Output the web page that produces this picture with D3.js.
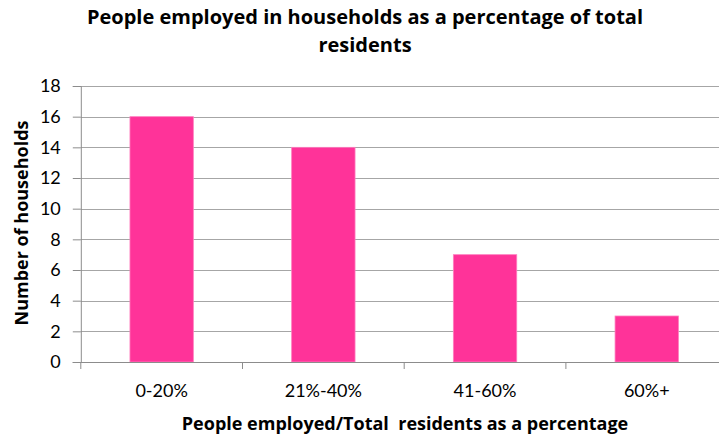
<!DOCTYPE html>
<html>
<head>
<meta charset="utf-8">
<script src="https://cdn.jsdelivr.net/npm/d3@7"></script>
<style>
  html, body { margin: 0; padding: 0; background: #fff; overflow: hidden; }
  svg { display: block; }
  text { fill: #000; }
  .tick-label { font-family: Lato, sans-serif; font-size: 18px; }
  .heading { font-family: "Open Sans", sans-serif; font-weight: bold; white-space: pre; }
</style>
</head>
<body>
<div id="chart"></div>
<script>
// Households by share of residents employed
const categories = ["0-20%", "21%-40%", "41-60%", "60%+"];
const households = [16, 14, 7, 3];
const yTicks = [0, 2, 4, 6, 8, 10, 12, 14, 16, 18];

const W = 719, H = 437;
const plot = { left: 80.8, right: 727.6, top: 86, bottom: 362 };

const svg = d3.select("#chart").append("svg")
  .attr("width", W).attr("height", H);

const x = d3.scaleBand()
  .domain(categories)
  .range([plot.left, plot.right])
  .paddingInner(0.608)
  .paddingOuter(0.304);

const y = d3.scaleLinear().domain([0, 18]).range([plot.bottom, plot.top]);

// Horizontal gridlines
svg.append("g")
  .selectAll("line")
  .data(yTicks.filter(t => t > 0))
  .join("line")
  .attr("x1", plot.left).attr("x2", plot.right)
  .attr("y1", d => Math.round(y(d)) + 0.5).attr("y2", d => Math.round(y(d)) + 0.5)
  .attr("stroke", "#a6a6a6").attr("stroke-width", 1.2);

// Bars
svg.append("g")
  .selectAll("rect")
  .data(categories.map((c, i) => ({ c, v: households[i] })))
  .join("rect")
  .attr("x", d => x(d.c))
  .attr("width", x.bandwidth())
  .attr("y", d => y(d.v))
  .attr("height", d => y(0) - y(d.v))
  .attr("fill", "#ff3399")
  .attr("stroke", "#ff7fbf").attr("stroke-width", 0.8);

// Y axis
const yAxis = svg.append("g")
  .attr("transform", `translate(${plot.left},0)`)
  .call(d3.axisLeft(y).tickValues(yTicks).tickSize(8).tickPadding(12).tickFormat(d3.format("d")));
yAxis.select(".domain").attr("stroke", "#8c8c8c");
yAxis.selectAll(".tick line").attr("stroke", "#8c8c8c");
yAxis.selectAll(".tick text")
  .attr("class", "tick-label")
  .attr("font-size", null).attr("font-family", null)
  .attr("fill", "#000");

// X axis with ticks at category boundaries
const boundaries = categories.map(c => x(c) - x.step() * x.paddingOuter()).concat([plot.right]);
const xAxis = svg.append("g").attr("transform", `translate(0,${plot.bottom})`);
xAxis.append("line")
  .attr("x1", plot.left - 8).attr("x2", plot.right)
  .attr("y1", 0.5).attr("y2", 0.5)
  .attr("stroke", "#8c8c8c");
xAxis.selectAll("line.tk")
  .data(boundaries)
  .join("line").attr("class", "tk")
  .attr("x1", d => d).attr("x2", d => d)
  .attr("y1", 0).attr("y2", 7)
  .attr("stroke", "#8c8c8c");
xAxis.selectAll("text")
  .data(categories)
  .join("text")
  .attr("class", "tick-label")
  .attr("x", d => x(d) + x.bandwidth() / 2)
  .attr("y", 35)
  .attr("text-anchor", "middle")
  .text(d => d);

// Titles
svg.append("text")
  .attr("class", "heading")
  .attr("x", 365).attr("y", 24)
  .attr("text-anchor", "middle")
  .style("font-size", "20px")
  .text("People employed in households as a percentage of total");
svg.append("text")
  .attr("class", "heading")
  .attr("x", 365).attr("y", 52)
  .attr("text-anchor", "middle")
  .style("font-size", "20px")
  .text("residents");

svg.append("text")
  .attr("class", "heading")
  .attr("x", 405).attr("y", 430)
  .attr("text-anchor", "middle")
  .style("font-size", "18px")
  .text("People employed/Total  residents as a percentage");

svg.append("text")
  .attr("class", "heading")
  .attr("transform", "translate(28,223) rotate(-90)")
  .attr("text-anchor", "middle")
  .style("font-size", "18px")
  .text("Number of households");
</script>
</body>
</html>
